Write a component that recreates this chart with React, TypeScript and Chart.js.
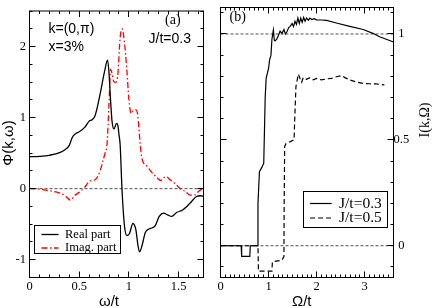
import React, { useEffect, useRef } from "react";
import { Chart, registerables } from "chart.js";

Chart.register(...registerables);

// ---------- Panel (a): Phi(k, omega) ----------
const realOmega = [0, 0.1, 0.2, 0.31, 0.36, 0.4, 0.43, 0.46, 0.5, 0.56, 0.6, 0.63, 0.66, 0.71, 0.755, 0.785, 0.8, 0.815, 0.83, 0.85, 0.875, 0.89, 0.9, 0.912, 0.93, 0.955, 0.98, 1.006, 1.04, 1.07, 1.09, 1.107, 1.13, 1.164, 1.197, 1.237, 1.265, 1.305, 1.35, 1.39, 1.43, 1.48, 1.54, 1.58, 1.63, 1.68, 1.72, 1.75];
const realPhi = [0.45, 0.455, 0.47, 0.51, 0.55, 0.61, 0.72, 0.77, 0.8, 0.87, 0.95, 0.97, 1.03, 1.33, 1.65, 1.81, 1.62, 1.25, 0.95, 0.84, 0.92, 0.88, 0.76, 0.61, 0.0, -0.52, -0.66, -0.63, -0.49, -0.58, -0.79, -0.89, -0.81, -0.62, -0.57, -0.55, -0.52, -0.39, -0.345, -0.37, -0.39, -0.335, -0.3, -0.255, -0.18, -0.11, -0.1, -0.11];

const imagOmega = [0, 0.1, 0.2, 0.3, 0.36, 0.41, 0.46, 0.505, 0.555, 0.61, 0.66, 0.71, 0.74, 0.76, 0.78, 0.8, 0.815, 0.83, 0.85, 0.87, 0.89, 0.91, 0.93, 0.955, 0.98, 1.0, 1.023, 1.05, 1.07, 1.09, 1.11, 1.13, 1.18, 1.23, 1.28, 1.32, 1.37, 1.415, 1.466, 1.516, 1.566, 1.617, 1.66, 1.7, 1.75];
const imagPhi = [0, -0.005, -0.03, -0.06, -0.1, -0.16, -0.09, -0.045, 0.02, 0.11, 0.125, 0.25, 0.4, 0.5, 0.63, 1.2, 1.68, 1.62, 1.5, 1.5, 1.63, 2.1, 2.25, 2.06, 1.65, 1.25, 1.06, 1.11, 1.11, 1.02, 0.68, 0.43, 0.32, 0.23, 0.16, 0.115, 0.17, 0.125, 0.07, 0.0, -0.04, -0.09, -0.09, -0.04, 0.01];

const leftZeroOmega = [0, 1.75];
const leftZeroPhi = [0, 0];

const leftXTicks = [0, 0.5, 1, 1.5];
const leftYTicks = [-1, 0, 1, 2];

// ---------- Panel (b): I(k, Omega) ----------
const j03Omega = [0, 0.43, 0.44, 0.61, 0.62, 0.76, 0.78, 0.81, 0.86, 0.9, 0.93, 0.95, 1.0, 1.02, 1.05, 1.07, 1.1, 1.12, 1.135, 1.17, 1.2, 1.24, 1.28, 1.32, 1.35, 1.38, 1.42, 1.45, 1.49, 1.52, 1.55, 1.58, 1.61, 1.64, 1.67, 1.7, 1.73, 1.76, 1.79, 1.83, 1.86, 1.9, 1.95, 2.0, 2.1, 2.21, 2.41, 2.69, 2.97, 3.17, 3.31, 3.45, 3.6];
const j03I = [0, 0, -0.05, -0.05, 0, 0, 0.2, 0.35, 0.37, 0.39, 0.7, 0.79, 0.837, 0.875, 0.9, 0.975, 1.018, 0.97, 0.967, 0.975, 0.99, 1.013, 1.003, 1.021, 1.0, 1.009, 1.03, 1.036, 1.05, 1.035, 1.06, 1.045, 1.075, 1.05, 1.075, 1.055, 1.078, 1.06, 1.075, 1.065, 1.075, 1.068, 1.072, 1.067, 1.066, 1.064, 1.052, 1.036, 1.021, 1.003, 0.987, 0.975, 0.962];

const j05Omega = [0, 0.78, 0.79, 1.07, 1.08, 1.28, 1.32, 1.325, 1.335, 1.365, 1.53, 1.545, 1.57, 1.62, 1.655, 1.69, 1.72, 1.79, 1.86, 1.93, 2.0, 2.1, 2.21, 2.31, 2.41, 2.52, 2.59, 2.69, 2.83, 2.97, 3.1, 3.24, 3.41];
const j05I = [0, 0, -0.12, -0.12, -0.076, -0.068, -0.05, 0.2, 0.469, 0.483, 0.5, 0.6, 0.752, 0.81, 0.79, 0.772, 0.794, 0.786, 0.794, 0.783, 0.79, 0.783, 0.788, 0.79, 0.798, 0.803, 0.794, 0.783, 0.773, 0.766, 0.765, 0.764, 0.76];

const rightRefOmega = [0, 3.6];
const rightZeroI = [0, 0];
const rightOneI = [1, 1];

const rightXTicks = [0, 1, 2, 3];
const rightYTicks = [0, 0.5, 1];

const pts = (xs: number[], ys: number[]) => xs.map((x, i) => ({ x, y: ys[i] }));

const SERIF = "'Liberation Serif', 'Times New Roman', serif";
const SANS = "'Liberation Sans', Arial, sans-serif";

type TextItem = {
  text: string;
  x: number;
  y: number;
  font: string;
  align?: CanvasTextAlign;
  baseline?: CanvasTextBaseline;
  rotate?: boolean;
};

type Deco = {
  xMinor: number;
  xMajor: number;
  yMinor: number;
  yMajor: number;
  texts: TextItem[];
  legend: {
    box: [number, number, number, number];
    x0: number;
    x1: number;
    tx: number;
    font: string;
    rows: { ds: number; y: number }[];
  };
};

function makeDecoPlugin(deco: Deco) {
  return {
    id: "deco",
    afterDraw(chart: any) {
      const ctx: CanvasRenderingContext2D = chart.ctx;
      const a = chart.chartArea;
      const xs = chart.scales.x;
      const ys = chart.scales.y;
      ctx.save();
      ctx.strokeStyle = "#000";
      ctx.lineWidth = 1;
      ctx.setLineDash([]);
      ctx.strokeRect(a.left, a.top, a.right - a.left, a.bottom - a.top);
      const line = (x1: number, y1: number, x2: number, y2: number) => {
        ctx.beginPath();
        ctx.moveTo(x1, y1);
        ctx.lineTo(x2, y2);
        ctx.stroke();
      };
      const ticks = (scale: any, horizontal: boolean, minor: number, major: number) => {
        const start = Math.ceil(scale.min / minor - 1e-6);
        const end = Math.floor(scale.max / minor + 1e-6);
        for (let k = start; k <= end; k++) {
          const v = k * minor;
          const r = v / major;
          const isMajor = Math.abs(r - Math.round(r)) < 1e-6;
          const len = isMajor ? 6 : 3;
          const p = Math.round(scale.getPixelForValue(v) - 0.5) + 0.5;
          if (horizontal) {
            line(p, a.bottom, p, a.bottom - len);
            line(p, a.top, p, a.top + len);
          } else {
            line(a.left, p, a.left + len, p);
            line(a.right, p, a.right - len, p);
          }
        }
      };
      ticks(xs, true, deco.xMinor, deco.xMajor);
      ticks(ys, false, deco.yMinor, deco.yMajor);

      ctx.fillStyle = "#000";
      for (const t of deco.texts) {
        ctx.save();
        ctx.font = t.font;
        ctx.textAlign = t.align || "left";
        ctx.textBaseline = t.baseline || "alphabetic";
        if (t.rotate) {
          ctx.translate(t.x, t.y);
          ctx.rotate(-Math.PI / 2);
          ctx.fillText(t.text, 0, 0);
        } else {
          ctx.fillText(t.text, t.x, t.y);
        }
        ctx.restore();
      }

      const L = deco.legend;
      const [bx0, by0, bx1, by1] = L.box;
      ctx.fillStyle = "#fff";
      ctx.fillRect(bx0, by0, bx1 - bx0, by1 - by0);
      ctx.strokeStyle = "#000";
      ctx.lineWidth = 1;
      ctx.strokeRect(bx0, by0, bx1 - bx0, by1 - by0);
      for (const row of L.rows) {
        const ds = chart.data.datasets[row.ds];
        ctx.save();
        ctx.strokeStyle = ds.borderColor;
        ctx.lineWidth = ds.borderWidth;
        ctx.setLineDash(ds.borderDash || []);
        line(L.x0, row.y, L.x1, row.y);
        ctx.restore();
        ctx.fillStyle = "#000";
        ctx.font = L.font;
        ctx.textAlign = "left";
        ctx.textBaseline = "middle";
        ctx.fillText(ds.label, L.tx, row.y);
      }
      ctx.restore();
    },
  };
}

const tickFont = { family: SERIF, size: 12.5 };
const plainLabel = (v: any) => String(v);

function leftConfig(): any {
  return {
    type: "line",
    data: {
      datasets: [
        {
          label: "Real part",
          data: pts(realOmega, realPhi),
          borderColor: "#000000",
          borderWidth: 1.3,
          cubicInterpolationMode: "monotone",
        },
        {
          label: "Imag. part",
          data: pts(imagOmega, imagPhi),
          borderColor: "#ff0000",
          borderWidth: 1.3,
          borderDash: [6, 2.5, 1.5, 2.5],
          cubicInterpolationMode: "monotone",
        },
        {
          label: "",
          data: pts(leftZeroOmega, leftZeroPhi),
          borderColor: "#222222",
          borderWidth: 0.8,
          borderDash: [3, 2],
        },
      ],
    },
    options: {
      responsive: false,
      animation: false,
      devicePixelRatio: 1,
      events: [],
      layout: { padding: { left: 0, right: 8.5, top: 0.5, bottom: 0 } },
      elements: { point: { radius: 0 }, line: { tension: 0, fill: false } },
      plugins: { legend: { display: false }, tooltip: { enabled: false } },
      scales: {
        x: {
          type: "linear",
          min: 0,
          max: 1.75,
          afterFit: (s: any) => {
            s.height = 30.5;
          },
          afterBuildTicks: (s: any) => {
            s.ticks = leftXTicks.map((v) => ({ value: v }));
          },
          grid: { display: false, drawTicks: false },
          border: { display: false },
          ticks: { font: tickFont, color: "#000", padding: 2, maxRotation: 0, autoSkip: false, callback: plainLabel },
        },
        y: {
          type: "linear",
          position: "left",
          min: -1.25,
          max: 2.5,
          afterFit: (s: any) => {
            s.width = 29.5;
          },
          afterBuildTicks: (s: any) => {
            s.ticks = leftYTicks.map((v) => ({ value: v }));
          },
          grid: { display: false, drawTicks: false },
          border: { display: false },
          ticks: { font: tickFont, color: "#000", padding: 3.5, autoSkip: false, callback: plainLabel },
        },
      },
    },
    plugins: [
      makeDecoPlugin({
        xMinor: 0.1,
        xMajor: 0.5,
        yMinor: 0.25,
        yMajor: 1,
        texts: [
          { text: "k=(0,π)", x: 48.5, y: 32.5, font: `14px ${SANS}` },
          { text: "x=3%", x: 48.5, y: 50.5, font: `14px ${SANS}` },
          { text: "(a)", x: 165, y: 23.5, font: `14px ${SERIF}` },
          { text: "J/t=0.3", x: 148.5, y: 42.5, font: `14px ${SANS}` },
          { text: "ω/t", x: 109, y: 306, font: `15px ${SANS}`, align: "center" },
          { text: "Φ(k,ω)", x: 9, y: 143, font: `15px ${SANS}`, align: "center", baseline: "middle", rotate: true },
        ],
        legend: {
          box: [34.5, 225.5, 120.5, 253.5],
          x0: 41.5,
          x1: 58.5,
          tx: 65,
          font: `12.5px ${SERIF}`,
          rows: [
            { ds: 0, y: 234.5 },
            { ds: 1, y: 248 },
          ],
        },
      }),
    ],
  };
}

function rightConfig(): any {
  return {
    type: "line",
    data: {
      datasets: [
        {
          label: "J/t=0.3",
          data: pts(j03Omega, j03I),
          borderColor: "#000000",
          borderWidth: 1.2,
        },
        {
          label: "J/t=0.5",
          data: pts(j05Omega, j05I),
          borderColor: "#000000",
          borderWidth: 1.2,
          borderDash: [5, 3],
        },
        {
          label: "",
          data: pts(rightRefOmega, rightZeroI),
          borderColor: "#222222",
          borderWidth: 0.8,
          borderDash: [3, 2],
        },
        {
          label: "",
          data: pts(rightRefOmega, rightOneI),
          borderColor: "#222222",
          borderWidth: 0.8,
          borderDash: [3, 2],
        },
      ],
    },
    options: {
      responsive: false,
      animation: false,
      devicePixelRatio: 1,
      events: [],
      layout: { padding: { left: 8.5, right: 0, top: 0.5, bottom: 0 } },
      elements: { point: { radius: 0 }, line: { tension: 0, fill: false } },
      plugins: { legend: { display: false }, tooltip: { enabled: false } },
      scales: {
        x: {
          type: "linear",
          min: 0,
          max: 3.6,
          afterFit: (s: any) => {
            s.height = 30.5;
          },
          afterBuildTicks: (s: any) => {
            s.ticks = rightXTicks.map((v) => ({ value: v }));
          },
          grid: { display: false, drawTicks: false },
          border: { display: false },
          ticks: { font: tickFont, color: "#000", padding: 2, maxRotation: 0, autoSkip: false, callback: plainLabel },
        },
        y: {
          type: "linear",
          position: "right",
          min: -0.15,
          max: 1.125,
          afterFit: (s: any) => {
            s.width = 42.5;
          },
          afterBuildTicks: (s: any) => {
            s.ticks = rightYTicks.map((v) => ({ value: v }));
          },
          grid: { display: false, drawTicks: false },
          border: { display: false },
          ticks: { font: tickFont, color: "#000", padding: 0, crossAlign: "center", autoSkip: false, callback: plainLabel },
        },
      },
    },
    plugins: [
      makeDecoPlugin({
        xMinor: 0.1,
        xMajor: 1,
        yMinor: 0.1,
        yMajor: 0.5,
        texts: [
          { text: "(b)", x: 17.5, y: 20.5, font: `14px ${SERIF}` },
          { text: "Ω/t", x: 89.7, y: 306, font: `15px ${SANS}`, align: "center" },
          { text: "I(k,Ω)", x: 213, y: 120, font: `14px ${SERIF}`, align: "center", baseline: "middle", rotate: true },
        ],
        legend: {
          box: [91.5, 191.5, 175.5, 227.5],
          x0: 98,
          x1: 119.7,
          tx: 127,
          font: `15.5px ${SERIF}`,
          rows: [
            { ds: 0, y: 203.5 },
            { ds: 1, y: 218 },
          ],
        },
      }),
    ],
  };
}

export default function App() {
  const leftRef = useRef<HTMLCanvasElement>(null);
  const rightRef = useRef<HTMLCanvasElement>(null);

  useEffect(() => {
    const c1 = new Chart(leftRef.current as HTMLCanvasElement, leftConfig());
    const c2 = new Chart(rightRef.current as HTMLCanvasElement, rightConfig());
    return () => {
      c1.destroy();
      c2.destroy();
    };
  }, []);

  return (
    <div
      style={{
        position: "absolute",
        left: 0,
        top: 0,
        width: 436,
        height: 308,
        background: "#ffffff",
        overflow: "hidden",
      }}
    >
      <canvas
        ref={leftRef}
        width={212}
        height={308}
        style={{ position: "absolute", left: 0, top: 0, width: 212, height: 308 }}
      />
      <canvas
        ref={rightRef}
        width={224}
        height={308}
        style={{ position: "absolute", left: 212, top: 0, width: 224, height: 308 }}
      />
    </div>
  );
}
